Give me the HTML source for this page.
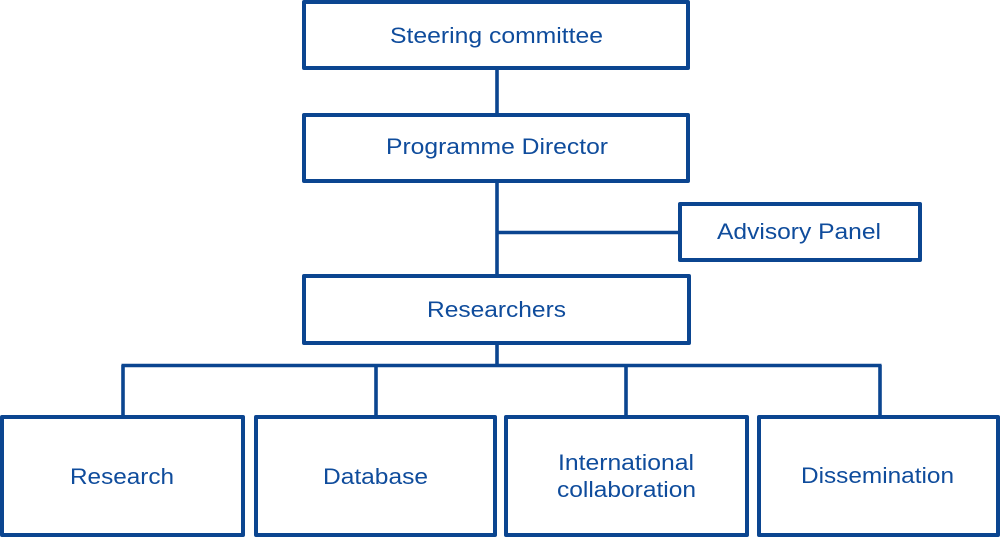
<!DOCTYPE html>
<html><head><meta charset="utf-8"><style>
html,body{margin:0;padding:0;background:#fff;}
svg{display:block;}
text{font-family:"Liberation Sans",Arial,sans-serif;font-size:22px;fill:#0f4c9c;}
</style></head><body>
<svg width="1000" height="539" viewBox="0 0 1000 539" xmlns="http://www.w3.org/2000/svg">
<g fill="none" stroke="#0b4590" stroke-width="3.6">
<line x1="497" y1="68" x2="497" y2="115"/>
<line x1="497" y1="181" x2="497" y2="276"/>
<line x1="497" y1="232.5" x2="680" y2="232.5"/>
<line x1="497" y1="343" x2="497" y2="366"/>
<line x1="121.5" y1="365.5" x2="881.5" y2="365.5"/>
<line x1="123" y1="365" x2="123" y2="417"/>
<line x1="376" y1="365" x2="376" y2="417"/>
<line x1="626" y1="365" x2="626" y2="417"/>
<line x1="880" y1="365" x2="880" y2="417"/>
</g>
<g fill="#fff" stroke="#0b4590" stroke-width="4" stroke-linejoin="round">
<rect x="304" y="2" width="384" height="66"/>
<rect x="304" y="115" width="384" height="66"/>
<rect x="680" y="204" width="240" height="56"/>
<rect x="304" y="276" width="385" height="67"/>
<rect x="2" y="417" width="241" height="118"/>
<rect x="256" y="417" width="239" height="118"/>
<rect x="506" y="417" width="241" height="118"/>
<rect x="759" y="417" width="239" height="118"/>
</g>
<text x="390" y="43" textLength="213" lengthAdjust="spacingAndGlyphs">Steering committee</text>
<text x="386" y="154" textLength="222" lengthAdjust="spacingAndGlyphs">Programme Director</text>
<text x="717" y="239" textLength="164" lengthAdjust="spacingAndGlyphs">Advisory Panel</text>
<text x="427" y="317" textLength="139" lengthAdjust="spacingAndGlyphs">Researchers</text>
<text x="70" y="484" textLength="104" lengthAdjust="spacingAndGlyphs">Research</text>
<text x="323" y="484" textLength="105" lengthAdjust="spacingAndGlyphs">Database</text>
<text x="558" y="470" textLength="136" lengthAdjust="spacingAndGlyphs">International</text>
<text x="557" y="497" textLength="139" lengthAdjust="spacingAndGlyphs">collaboration</text>
<text x="801" y="483" textLength="153" lengthAdjust="spacingAndGlyphs">Dissemination</text>
</svg>
</body></html>
